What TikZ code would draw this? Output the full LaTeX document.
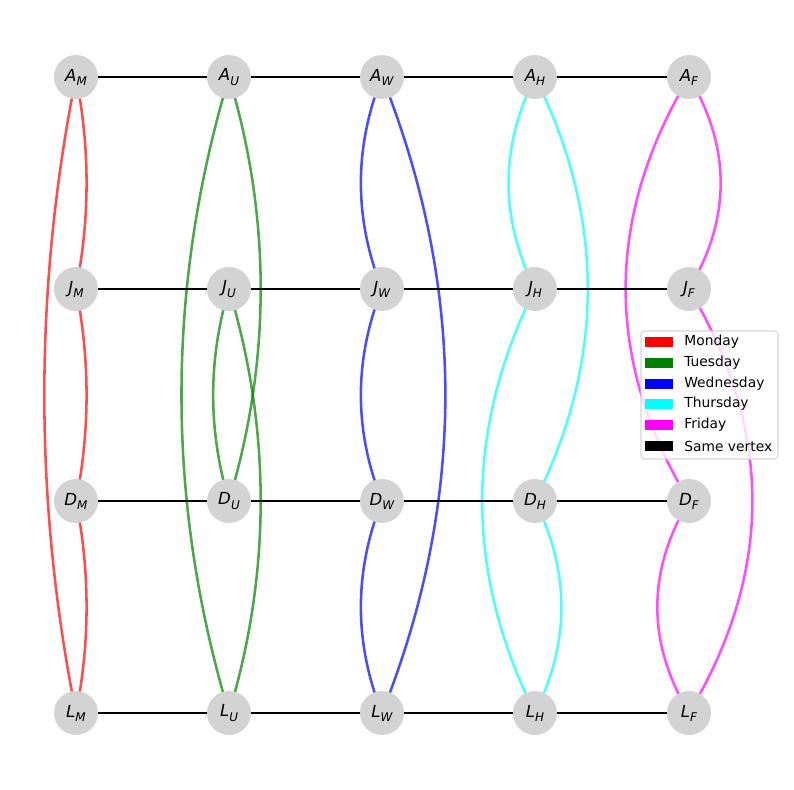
\documentclass[tikz,border=0pt]{standalone}
\usepackage{fontspec}
\setmainfont{DejaVu Sans}
\usetikzlibrary{backgrounds}
\definecolor{nodegray}{HTML}{D3D3D3}
\definecolor{mred}{HTML}{FF0000}
\definecolor{mgreen}{HTML}{008000}
\definecolor{mblue}{HTML}{0000FF}
\definecolor{mcyan}{HTML}{00FFFF}
\definecolor{mmagenta}{HTML}{FF00FF}
\tikzset{
  vert/.style={circle, fill=nodegray, minimum size=0.88cm, inner sep=0pt, font=\fontsize{9.45}{11}\selectfont},
  same/.style={draw=black, line width=1.45pt},
  mon/.style={draw=mred, draw opacity=0.7, line width=1.45pt, looseness=0.868},
  tue/.style={draw=mgreen, draw opacity=0.7, line width=1.45pt, looseness=0.889},
  wed/.style={draw=mblue, draw opacity=0.7, line width=1.45pt, looseness=0.917},
  thu/.style={draw=mcyan, draw opacity=0.7, line width=1.45pt, looseness=0.952},
  fri/.style={draw=mmagenta, draw opacity=0.7, line width=1.45pt, looseness=0.993},
  legtext/.style={anchor=west, inner sep=0pt, font=\fontsize{7.87}{9}\selectfont},
}
\newcommand{\lbl}[2]{\textit{#1}\raisebox{-0.45ex}{\fontsize{6.8}{7}\selectfont\textit{#2}}}
\begin{document}
\begin{tikzpicture}[x=0.02cm, y=-0.02cm]
\useasboundingbox (0,0) rectangle (794,790);
% nodes
\foreach \c/\x in {M/76, U/229, W/382, H/535, F/689}{
  \foreach \r/\y in {A/77, J/289, D/501, L/713}{
    \node[vert] (\r\c) at (\x,\y) {\lbl{\r}{\c}};
  }
}
\begin{pgfonlayer}{background}
% Monday
\draw[mon] (AM.center) to[bend left=11.31] (JM.center);
\draw[mon] (JM.center) to[bend left=11.31] (DM.center);
\draw[mon] (DM.center) to[bend left=11.31] (LM.center);
\draw[mon] (AM.center) to[bend right=11.31] (LM.center);
% Tuesday
\draw[tue] (AU.center) to[bend left=16.70] (DU.center);
\draw[tue] (JU.center) to[bend left=16.70] (LU.center);
\draw[tue] (JU.center) to[bend right=16.70] (DU.center);
\draw[tue] (AU.center) to[bend right=16.70] (LU.center);
% Wednesday
\draw[wed] (AW.center) to[bend right=21.80] (JW.center);
\draw[wed] (JW.center) to[bend right=21.80] (DW.center);
\draw[wed] (DW.center) to[bend right=21.80] (LW.center);
\draw[wed] (AW.center) to[bend left=21.80] (LW.center);
% Thursday
\draw[thu] (AH.center) to[bend right=26.57] (JH.center);
\draw[thu] (AH.center) to[bend left=26.57] (DH.center);
\draw[thu] (JH.center) to[bend right=26.57] (LH.center);
\draw[thu] (DH.center) to[bend left=26.57] (LH.center);
% Friday
\draw[fri] (AF.center) to[bend left=30.96] (JF.center);
\draw[fri] (AF.center) to[bend right=30.96] (DF.center);
\draw[fri] (JF.center) to[bend left=30.96] (LF.center);
\draw[fri] (DF.center) to[bend right=30.96] (LF.center);
\end{pgfonlayer}
% same-vertex edges
\foreach \r in {A,J,D,L}{
  \draw[same] (\r M) -- (\r U);
  \draw[same] (\r U) -- (\r W);
  \draw[same] (\r W) -- (\r H);
  \draw[same] (\r H) -- (\r F);
}
% legend
\node[draw=black!20, draw opacity=0.8, fill=white, fill opacity=0.8, rounded corners=2pt, line width=0.6pt, minimum width=2.74cm, minimum height=2.56cm, inner sep=0pt] (legend) at (709.5,395) {};
\foreach \t/\col/\y in {Monday/mred/342, Tuesday/mgreen/363, Wednesday/mblue/384, Thursday/mcyan/404, Friday/mmagenta/425, Same vertex/black/446}{
  \fill[\col] (645,\y-5) rectangle (673,\y+5);
  \node[legtext] at (684,\y) {\t};
}
\end{tikzpicture}
\end{document}
